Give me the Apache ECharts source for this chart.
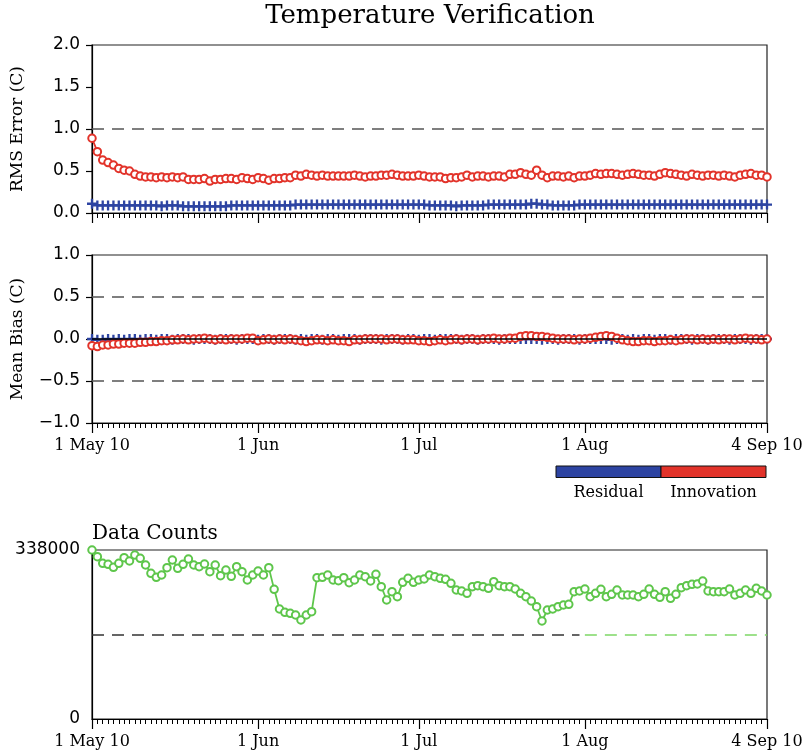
<!DOCTYPE html>
<html>
<head>
<meta charset="utf-8">
<script src="https://cdn.jsdelivr.net/npm/echarts@6/dist/echarts.min.js"></script>
<style>
html,body{margin:0;padding:0;background:#fff}
#chart{width:812px;height:756px}
</style>
</head>
<body>
<div id="chart"></div>
<script>
// Daily verification statistics, 1 May 2010 .. 4 Sep 2010
const dayCount = 127;
const categories = [];
for (let i = 0; i < dayCount; i++) {
  categories.push(new Date(Date.UTC(2010, 4, 1 + i)).toISOString().slice(0, 10));
}

// Month tick positions (day index) and their labels
const tickDays = [0, 31, 61, 92, 126];
const tickLabels = ['1 May 10', '1 Jun', '1 Jul', '1 Aug', '4 Sep 10'];

// RMS error (C)
const rmsResidual = [
  0.11,0.09,0.09,0.09,0.09,0.09,0.09,0.09,0.09,0.09,
  0.09,0.09,0.09,0.08,0.09,0.09,0.09,0.08,0.08,0.08,
  0.08,0.08,0.08,0.08,0.08,0.08,0.09,0.09,0.09,0.09,
  0.09,0.09,0.09,0.09,0.09,0.09,0.09,0.09,0.10,0.10,
  0.10,0.10,0.10,0.10,0.10,0.10,0.10,0.10,0.10,0.10,
  0.10,0.10,0.10,0.10,0.10,0.10,0.10,0.10,0.10,0.10,
  0.10,0.10,0.10,0.09,0.09,0.09,0.09,0.09,0.08,0.09,
  0.09,0.09,0.09,0.09,0.10,0.10,0.10,0.10,0.10,0.10,
  0.10,0.10,0.11,0.11,0.10,0.10,0.09,0.09,0.09,0.09,
  0.09,0.10,0.10,0.10,0.10,0.10,0.10,0.10,0.10,0.10,
  0.10,0.10,0.10,0.10,0.10,0.10,0.10,0.10,0.10,0.10,
  0.10,0.10,0.10,0.10,0.10,0.10,0.10,0.10,0.10,0.10,
  0.10,0.10,0.10,0.10,0.10,0.10,0.10
];
const rmsInnovation = [
  0.89,0.73,0.63,0.60,0.57,0.53,0.51,0.50,0.46,0.44,
  0.43,0.43,0.42,0.43,0.42,0.43,0.42,0.43,0.40,0.40,
  0.40,0.41,0.38,0.40,0.40,0.41,0.41,0.40,0.42,0.41,
  0.40,0.42,0.41,0.39,0.41,0.41,0.42,0.42,0.45,0.44,
  0.46,0.45,0.44,0.45,0.44,0.44,0.44,0.44,0.44,0.45,
  0.44,0.43,0.44,0.44,0.45,0.45,0.46,0.45,0.44,0.44,
  0.44,0.45,0.44,0.43,0.43,0.43,0.41,0.42,0.42,0.43,
  0.45,0.43,0.44,0.44,0.43,0.44,0.44,0.43,0.46,0.46,
  0.48,0.46,0.45,0.51,0.45,0.42,0.44,0.44,0.43,0.44,
  0.42,0.44,0.44,0.45,0.47,0.46,0.47,0.47,0.46,0.45,
  0.46,0.47,0.46,0.45,0.45,0.44,0.46,0.48,0.47,0.46,
  0.45,0.44,0.46,0.45,0.44,0.45,0.45,0.44,0.45,0.44,
  0.43,0.45,0.46,0.47,0.45,0.45,0.43
];

// Mean bias (C)
const biasResidual = [
  0.00,-0.01,-0.01,0.00,-0.01,0.00,-0.01,0.00,0.00,-0.01,
  0.00,0.00,-0.01,0.00,0.00,-0.01,0.00,0.00,0.00,-0.01,
  0.00,0.00,0.00,-0.01,0.00,0.00,0.00,-0.01,0.00,0.00,
  0.00,-0.01,0.00,0.00,-0.01,0.00,0.00,0.00,-0.01,0.00,
  -0.01,0.00,0.00,-0.01,0.00,0.00,-0.01,0.00,0.00,0.00,
  -0.01,0.00,0.00,0.00,-0.01,0.00,0.00,0.00,-0.01,0.00,
  0.00,-0.01,0.00,0.00,-0.01,0.00,0.00,0.00,0.00,-0.01,
  0.00,0.00,-0.01,0.00,0.00,0.00,-0.01,0.00,0.00,0.00,
  0.00,0.00,0.00,0.00,-0.01,0.00,0.00,-0.01,0.00,0.00,
  0.00,-0.01,0.00,0.00,0.00,0.00,0.00,-0.01,0.00,0.00,
  -0.01,0.00,-0.01,0.00,0.00,-0.01,0.00,0.00,-0.01,0.00,
  0.00,0.00,-0.01,0.00,0.00,-0.01,0.00,0.00,0.00,-0.01,
  0.00,0.00,0.00,-0.01,0.00,0.00,0.00
];
const biasInnovation = [
  -0.08,-0.09,-0.07,-0.07,-0.06,-0.06,-0.05,-0.05,-0.05,-0.04,
  -0.04,-0.03,-0.03,-0.02,-0.02,-0.01,-0.01,0.00,-0.01,0.00,
  0.00,0.01,0.00,-0.01,0.00,-0.01,0.00,0.00,0.00,0.01,
  0.01,-0.02,-0.01,0.00,-0.01,0.00,-0.01,0.00,-0.01,-0.02,
  -0.03,-0.02,-0.01,-0.01,-0.02,-0.01,-0.02,-0.02,-0.03,-0.01,
  -0.01,0.00,0.00,0.00,0.00,-0.01,0.00,0.00,-0.01,-0.01,
  -0.01,-0.02,-0.02,-0.03,-0.02,-0.01,-0.02,-0.01,0.00,-0.01,
  0.00,0.00,-0.01,0.00,0.00,0.01,0.00,0.00,0.01,0.01,
  0.03,0.04,0.04,0.03,0.03,0.02,0.01,0.00,0.00,0.00,
  -0.01,0.00,0.00,0.01,0.02,0.03,0.04,0.03,0.01,-0.01,
  -0.02,-0.03,-0.03,-0.02,-0.02,-0.03,-0.02,-0.02,-0.01,-0.02,
  -0.01,0.00,0.00,-0.01,0.00,-0.01,0.00,-0.01,0.00,0.00,
  -0.01,0.00,0.01,0.00,0.00,-0.01,0.00
];

// Number of observations used per day
const dataCounts = [
  338000,324600,311300,309300,303300,311300,322700,316000,328000,321300,
  308000,291300,283300,288000,302700,318000,301300,309300,320000,308000,
  304700,310000,294700,308000,286700,298000,285300,304700,294700,278000,
  288000,296000,288000,302700,259300,220000,213300,211300,208000,198000,
  208000,214700,282700,283300,288000,278000,276700,282700,272700,278000,
  288000,284700,276000,289300,264700,238000,254700,244700,273300,281300,
  273300,278000,280000,288000,284700,281300,279300,271300,258000,256000,
  251300,264700,266700,264700,261300,274700,266700,264700,264700,260000,
  251300,244700,236000,224700,196000,218000,220000,224700,228000,229300,
  254700,256000,260000,244700,251300,259300,244700,249300,258000,248000,
  248000,248000,244700,249300,260000,249300,243300,254700,241300,249300,
  262700,266700,269300,270000,276000,256000,254700,254700,254700,260000,
  248000,251300,258000,251300,261300,256000,248000
];
const countMax = 338000;
const countThreshold = 169000;
const thresholdSplitDay = 91;   // last day of the first threshold segment

const BLUE = '#2d44a2';
const RED = '#e2332a';
const GREEN = '#5ec64b';
const SERIF = 'DejaVu Serif';
const SANS = 'DejaVu Sans';

const isMajor = (idx) => tickDays.indexOf(idx) >= 0;
// plus-sign marker
const PLUS = 'path://M4,0h2.4v4h4v2.4h-4v4h-2.4v-4h-4v-2.4h4z';

const gridBox = { left: 92, width: 675, show: true, borderColor: '#222', borderWidth: 1.2 };
const grids = [
  Object.assign({ top: 45, height: 168 }, gridBox),
  Object.assign({ top: 255, height: 168 }, gridBox),
  Object.assign({ top: 550, height: 169 }, gridBox)
];

function xAxesFor(g, withLabels) {
  return [
    {
      type: 'category', gridIndex: g, data: categories, boundaryGap: false, position: 'bottom',
      axisLine: { onZero: false, lineStyle: { color: '#000', width: 1.2 } },
      axisTick: { show: true, interval: isMajor, length: 10, lineStyle: { color: '#000', width: 1.2 } },
      axisLabel: {
        show: withLabels, interval: isMajor, margin: 15,
        formatter: (v, i) => tickLabels[tickDays.indexOf(i)],
        fontFamily: SERIF, fontSize: 16, color: '#000'
      },
      splitLine: { show: false }
    },
    {
      type: 'category', gridIndex: g, data: categories, boundaryGap: false, position: 'bottom',
      axisLine: { show: false, onZero: false },
      axisTick: { show: true, interval: 0, length: 5, lineStyle: { color: '#000', width: 1 } },
      axisLabel: { show: false },
      splitLine: { show: false }
    }
  ];
}

const yCommon = {
  type: 'value',
  axisLine: { show: true, lineStyle: { color: '#000', width: 1.2 } },
  axisTick: { show: true, length: 6, lineStyle: { color: '#000', width: 1.2 } },
  splitLine: { show: false },
  nameLocation: 'middle',
  nameTextStyle: { fontFamily: SERIF, fontSize: 17, color: '#000' }
};
const yLabel = { fontFamily: SANS, fontSize: 17, color: '#000', margin: 12 };

const dashed = (color) => ({ type: [12, 8], color: color, width: 1.5 });

const option = {
  animation: false,
  backgroundColor: '#fff',
  grid: grids,
  xAxis: [].concat(xAxesFor(0, false), xAxesFor(1, true), xAxesFor(2, true)),
  yAxis: [
    Object.assign({}, yCommon, {
      gridIndex: 0, min: 0, max: 2, interval: 0.5, name: 'RMS Error (C)', nameGap: 66,
      axisLabel: Object.assign({ formatter: (v) => v.toFixed(1) }, yLabel)
    }),
    Object.assign({}, yCommon, {
      gridIndex: 1, min: -1, max: 1, interval: 0.5, name: 'Mean Bias (C)', nameGap: 66,
      axisLabel: Object.assign({
        formatter: (v) => (v < 0 ? '\u2212' + Math.abs(v).toFixed(1) : v.toFixed(1))
      }, yLabel)
    }),
    Object.assign({}, yCommon, {
      gridIndex: 2, min: 0, max: countMax, interval: countMax,
      axisTick: { show: false },
      axisLabel: Object.assign({ formatter: (v) => String(v) }, yLabel)
    })
  ],
  series: [
    {
      name: 'Residual', type: 'line', xAxisIndex: 0, yAxisIndex: 0, data: rmsResidual,
      symbol: PLUS, symbolSize: 10, showAllSymbol: true,
      lineStyle: { color: BLUE, width: 1.8 }, itemStyle: { color: BLUE, borderWidth: 0 }
    },
    {
      name: 'Innovation', type: 'line', xAxisIndex: 0, yAxisIndex: 0, data: rmsInnovation,
      symbol: 'emptyCircle', symbolSize: 7.5, showAllSymbol: true,
      lineStyle: { color: RED, width: 1.8 }, itemStyle: { color: RED, borderWidth: 2.2 },
      markLine: {
        silent: true, symbol: 'none', label: { show: false },
        lineStyle: dashed('#555'),
        data: [{ yAxis: 1 }]
      }
    },
    {
      name: 'Residual', type: 'line', xAxisIndex: 2, yAxisIndex: 1, data: biasResidual,
      symbol: PLUS, symbolSize: 10, showAllSymbol: true,
      lineStyle: { color: BLUE, width: 1.8 }, itemStyle: { color: BLUE, borderWidth: 0 }
    },
    {
      name: 'Innovation', type: 'line', xAxisIndex: 2, yAxisIndex: 1, data: biasInnovation,
      symbol: 'emptyCircle', symbolSize: 7.5, showAllSymbol: true,
      lineStyle: { color: RED, width: 1.8 }, itemStyle: { color: RED, borderWidth: 2.2 },
      markLine: {
        silent: true, symbol: 'none', label: { show: false },
        lineStyle: dashed('#555'),
        data: [
          { yAxis: 0.5 },
          { yAxis: -0.5 },
          { yAxis: 0, lineStyle: { type: 'solid', color: '#000', width: 1.5 } }
        ]
      }
    },
    {
      name: 'Data Counts', type: 'line', xAxisIndex: 4, yAxisIndex: 2, data: dataCounts,
      symbol: 'emptyCircle', symbolSize: 7.5, showAllSymbol: true,
      lineStyle: { color: GREEN, width: 1.8 }, itemStyle: { color: GREEN, borderWidth: 2.2 },
      markLine: {
        silent: true, symbol: 'none', label: { show: false },
        data: [
          [
            { coord: [categories[0], countThreshold], lineStyle: dashed('#333') },
            { coord: [categories[thresholdSplitDay], countThreshold] }
          ],
          [
            { coord: [categories[thresholdSplitDay + 1], countThreshold], lineStyle: dashed('#7ed866') },
            { coord: [categories[dayCount - 1], countThreshold] }
          ]
        ]
      }
    }
  ],
  graphic: [
    {
      type: 'text',
      style: { text: 'Temperature Verification', x: 430, y: 16, textAlign: 'center', textVerticalAlign: 'middle',
        font: '26px "DejaVu Serif"', fill: '#000' }
    },
    {
      type: 'text',
      style: { text: 'Data Counts', x: 92, y: 534, textAlign: 'left', textVerticalAlign: 'middle',
        font: '20px "DejaVu Serif"', fill: '#000' }
    },
    {
      type: 'rect', shape: { x: 556, y: 466, width: 105, height: 11.5 },
      style: { fill: BLUE, stroke: '#111', lineWidth: 1 }
    },
    {
      type: 'rect', shape: { x: 661, y: 466, width: 105, height: 11.5 },
      style: { fill: RED, stroke: '#111', lineWidth: 1 }
    },
    {
      type: 'text',
      style: { text: 'Residual', x: 608.5, y: 493, textAlign: 'center', textVerticalAlign: 'middle',
        font: '16px "DejaVu Serif"', fill: '#000' }
    },
    {
      type: 'text',
      style: { text: 'Innovation', x: 713.5, y: 493, textAlign: 'center', textVerticalAlign: 'middle',
        font: '16px "DejaVu Serif"', fill: '#000' }
    }
  ]
};

const chart = echarts.init(document.getElementById('chart'), null, { renderer: 'canvas' });
chart.setOption(option);
</script>
</body>
</html>
